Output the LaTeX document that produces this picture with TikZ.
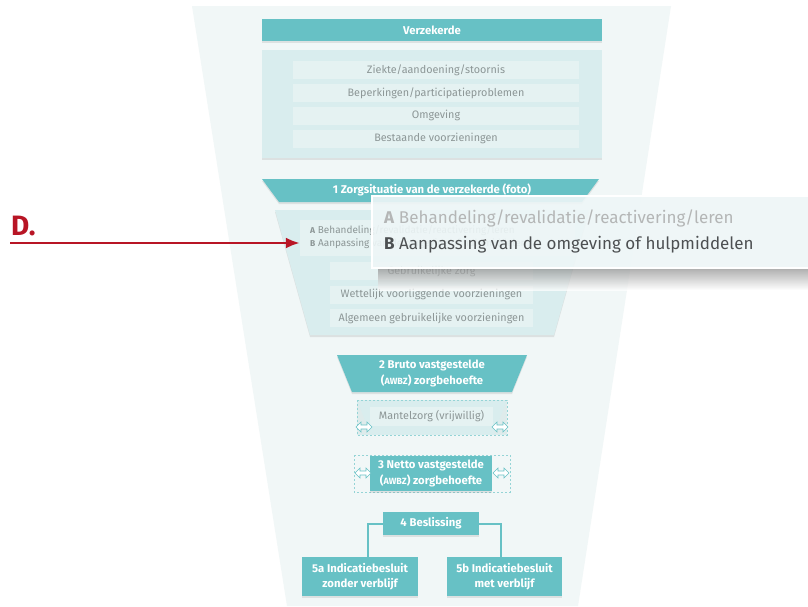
\documentclass[tikz,border=0pt]{standalone}
\usepackage{fontspec}
\setmainfont{Fira Sans}
\usetikzlibrary{arrows.meta,shadows}

\definecolor{zteal}{RGB}{103,193,197}
\definecolor{zpanel}{RGB}{217,237,238}
\definecolor{zrow}{RGB}{229,242,242}
\definecolor{zbg}{RGB}{241,247,247}
\definecolor{zgrey}{RGB}{140,150,150}
\definecolor{zover}{RGB}{238,246,247}
\definecolor{zlight}{RGB}{180,182,182}
\definecolor{zdark}{RGB}{77,80,82}
\definecolor{zred}{RGB}{184,21,37}

\newcommand{\awbz}{{\fontsize{9}{9}\selectfont AWBZ}}
\newcommand{\dblarrow}[2]{\filldraw[fill=white,draw=zteal,line width=0.6pt]
  (#1-8,#2)--(#1-3,#2-5)--(#1-3,#2-2)--(#1+3,#2-2)--(#1+3,#2-5)--(#1+8,#2)
  --(#1+3,#2+5)--(#1+3,#2+2)--(#1-3,#2+2)--(#1-3,#2+5)--cycle;}

\begin{document}
\begin{tikzpicture}[x=1pt,y=-1pt,
  sh/.style={drop shadow={shadow xshift=0pt,shadow yshift=-2pt,opacity=.18}},
  head/.style={fill=zteal,text=white,font=\fontsize{11.3}{15.5}\selectfont\bfseries,
    inner sep=0pt,align=center},
  row/.style={fill=zrow,text=zgrey,font=\fontsize{10.8}{12}\selectfont,inner sep=0pt},
  plain/.style={inner sep=0pt,align=center},
  link/.style={draw=zteal,line width=2pt},
  dashbox/.style={draw=zteal!70,line width=0.5pt,dash pattern=on 2pt off 2pt}]
\useasboundingbox (0,0) rectangle (808,606);
\fill[white] (0,0) rectangle (808,606);
\fill[zbg] (192,6)--(671,6)--(578,606)--(287,606)--cycle;

\node[head,sh,minimum width=340,minimum height=22] (verz) at (432,30) {Verzekerde};
\fill[zpanel,sh] (262,50) rectangle (602,158);
\node[row,minimum width=286,minimum height=18] (ziekte) at (436,70) {Ziekte/aandoening/stoornis};
\node[row,minimum width=286,minimum height=18] (beperk) at (436,93) {Beperkingen/participatieproblemen};
\node[row,minimum width=286,minimum height=18] (omgev) at (436,115.5) {Omgeving};
\node[row,minimum width=286,minimum height=18] (bestaand) at (436,138.5) {Bestaande voorzieningen};

\fill[zteal,sh] (262,179)--(599,179)--(582,202)--(279,202)--cycle;
\node[plain,text=white,font=\fontsize{11.3}{12}\selectfont\bfseries] (zorg) at (432,190)
  {1 Zorgsituatie van de verzekerde (foto)};
\fill[zpanel,sh] (275,210)--(589,210)--(554,335)--(310,335)--cycle;
\node[fill=zrow,inner sep=0pt,minimum width=275,minimum height=36] (abrow) at (437.5,238) {};
\node[plain,anchor=west,align=left,text=zgrey,font=\fontsize{10}{13}\selectfont] (abtxt) at (310,237)
  {{\fontsize{8.5}{8}\selectfont\bfseries A} Behandeling/revalidatie/reactivering/leren\\
   {\fontsize{8.5}{8}\selectfont\bfseries B} Aanpassing van de omgeving of hulpmiddelen};
\node[row,minimum width=203,minimum height=18] (gebr) at (431.5,271) {Gebruikelijke zorg};
\node[row,minimum width=203,minimum height=18] (wettel) at (431.5,294.5) {Wettelijk voorliggende voorzieningen};
\node[row,minimum width=203,minimum height=18] (algem) at (431.5,318) {Algemeen gebruikelijke voorzieningen};

\shade[top color=black!45,bottom color=white,opacity=.7] (378,268) rectangle (808,290);
\filldraw[fill=zover,fill opacity=.9,draw=white,line width=1.5pt] (372,196) rectangle (812,268);
\node[plain,anchor=west,text=zlight,font=\fontsize{17}{18}\selectfont] (overa) at (384,218)
  {\textbf{A} Behandeling/revalidatie/reactivering/leren};
\node[plain,anchor=west,text=zdark,font=\fontsize{17}{18}\selectfont] (overb) at (384,245)
  {\textbf{B} Aanpassing van de omgeving of hulpmiddelen};

\node[plain,anchor=base west,text=zred,font=\fontsize{28}{28}\selectfont\bfseries] (dlabel) at (11,235) {D.};
\coordinate (dtail) at (10,243);
\draw[zred,line width=2.5pt,-{Latex[length=14pt,width=11pt]}] (dtail) -- (abrow.west |- dtail);

\fill[zteal,sh] (337,355)--(527,355)--(512,392)--(352,392)--cycle;
\node[head] (bruto) at (432,373.5) {2 Bruto vastgestelde\\(\awbz) zorgbehoefte};

\fill[zpanel] (357,400) rectangle (507,435);
\fill[zpanel!60!zgrey!40,opacity=.5] (357,400)--(370,434)--(357,434)--cycle;
\fill[zpanel!60!zgrey!40,opacity=.5] (507,400)--(494,434)--(507,434)--cycle;
\draw[dashbox] (357,400) rectangle (507,435);
\node[row,minimum width=123,minimum height=19] (mantel) at (431.5,416) {Mantelzorg (vrijwillig)};
\dblarrow{364}{427}
\dblarrow{500}{427}

\draw[dashbox] (354,455) rectangle (510,492);
\node[head,sh,minimum width=122,minimum height=35] (netto) at (431,473.5) {3 Netto vastgestelde\\(\awbz) zorgbehoefte};
\dblarrow{363}{473}
\dblarrow{501}{473}

\node[head,sh,minimum width=96,minimum height=23] (besl) at (431,523.5) {4 Beslissing};
\node[head,sh,minimum width=116,minimum height=39] (ind5a) at (360,576.5) {5a Indicatiebesluit\\zonder verblijf};
\node[head,sh,minimum width=115,minimum height=39] (ind5b) at (504.5,576.5) {5b Indicatiebesluit\\met verblijf};
\draw[link] (besl.west) -| ([xshift=8pt]ind5a.north);
\draw[link] (besl.east) -| ([xshift=-3.5pt]ind5b.north);
\end{tikzpicture}
\end{document}
